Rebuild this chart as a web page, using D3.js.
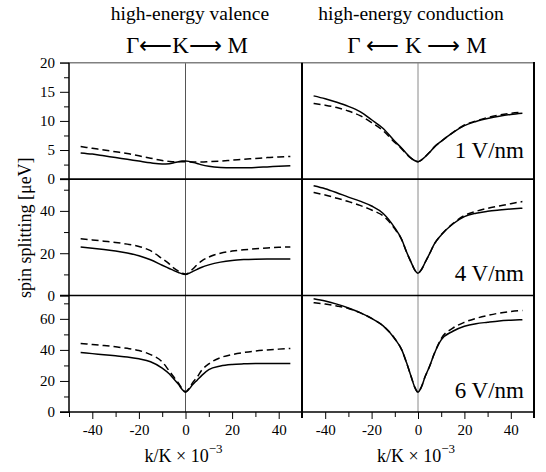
<!DOCTYPE html>
<html>
<head>
<meta charset="utf-8">
<script src="https://cdn.jsdelivr.net/npm/d3@7"></script>
<style>
  html, body { margin: 0; padding: 0; background: #fff; }
  svg { display: block; }
  text { font-family: "Liberation Serif", "Times New Roman", Times, serif; fill: #000; }
</style>
</head>
<body>
<svg id="chart" width="546" height="472"></svg>
<script>
// ---------------- data ----------------
const kValues = [-45, -40, -35, -30, -25, -20, -15, -10, -7, -5, -3, -1.5, 0, 1.5, 3, 5, 7, 10, 15, 20, 25, 30, 35, 40, 45];

// high-energy valence
const valence1Solid  = [4.5, 4.3, 4.0, 3.7, 3.4, 3.1, 2.8, 2.6, 2.65, 2.8, 3.0, 3.1, 3.1, 3.05, 2.9, 2.7, 2.45, 2.2, 2.0, 1.95, 1.95, 2.0, 2.1, 2.2, 2.3];
const valence1Dashed = [5.6, 5.3, 5.0, 4.7, 4.4, 4.0, 3.6, 3.2, 3.05, 3.0, 3.0, 3.0, 3.0, 2.97, 2.95, 2.95, 2.95, 3.0, 3.1, 3.25, 3.4, 3.55, 3.7, 3.8, 3.9];
const valence4Solid  = [22.9, 22.4, 21.8, 21.1, 20.1, 18.8, 16.9, 14.3, 12.8, 11.8, 10.9, 10.3, 10.0, 10.5, 11.3, 12.4, 13.4, 14.5, 15.8, 16.6, 17.0, 17.2, 17.3, 17.3, 17.3];
const valence4Dashed = [26.8, 26.3, 25.7, 25.1, 24.3, 23.2, 21.2, 17.4, 15.0, 13.0, 11.5, 10.6, 10.1, 10.9, 12.4, 14.6, 16.4, 18.2, 20.0, 21.0, 21.6, 22.1, 22.5, 22.8, 23.0];
const valence6Solid  = [38.3, 37.6, 36.9, 36.2, 35.5, 34.3, 32.4, 28.3, 24.6, 21.3, 17.8, 14.6, 12.8, 14.6, 17.5, 20.5, 23.6, 27.3, 29.6, 30.6, 31.0, 31.2, 31.2, 31.2, 31.2];
const valence6Dashed = [44.2, 43.5, 42.8, 42.0, 41.0, 39.6, 37.0, 32.3, 26.5, 22.5, 18.5, 15.2, 13.0, 15.2, 18.8, 22.5, 27.0, 31.0, 35.0, 37.0, 38.3, 39.3, 40.0, 40.5, 40.9];

// high-energy conduction
const conduction1Solid  = [14.3, 13.8, 13.2, 12.5, 11.6, 10.2, 8.7, 6.5, 5.3, 4.4, 3.6, 3.2, 3.0, 3.3, 3.8, 4.6, 5.5, 6.5, 8.0, 9.2, 9.9, 10.4, 10.8, 11.1, 11.3];
const conduction1Dashed = [13.0, 12.7, 12.3, 11.7, 10.9, 9.7, 8.3, 6.3, 5.2, 4.3, 3.6, 3.2, 3.0, 3.3, 3.8, 4.6, 5.5, 6.5, 8.0, 9.3, 10.0, 10.6, 11.0, 11.3, 11.5];
const conduction4Solid  = [51.9, 50.5, 48.6, 46.5, 44.6, 42.3, 38.8, 32.0, 26.5, 20.8, 15.8, 12.3, 10.6, 12.3, 15.5, 19.8, 24.3, 28.6, 33.8, 37.3, 38.9, 39.8, 40.4, 40.9, 41.3];
const conduction4Dashed = [48.7, 47.5, 46.0, 44.4, 42.6, 40.4, 37.6, 31.5, 26.3, 20.7, 15.8, 12.3, 10.6, 12.3, 15.5, 19.8, 24.3, 28.7, 34.0, 37.8, 39.8, 41.2, 42.3, 43.4, 44.4];
const conduction6Solid  = [73.0, 71.5, 69.5, 67.0, 64.0, 60.3, 55.5, 47.2, 40.0, 32.0, 23.0, 16.3, 12.8, 16.3, 22.5, 29.5, 37.5, 46.5, 52.0, 55.2, 56.9, 57.8, 58.6, 59.1, 59.5];
const conduction6Dashed = [70.4, 69.5, 68.3, 66.7, 64.0, 60.3, 55.5, 47.2, 40.0, 32.0, 23.0, 16.3, 12.8, 16.3, 22.5, 29.5, 37.5, 47.3, 54.0, 57.8, 60.3, 62.2, 63.7, 64.7, 65.4];

const fieldLabels = ["1 V/nm", "4 V/nm", "6 V/nm"];
const columnTitles = ["high-energy valence", "high-energy conduction"];
const pathLabels = ["\u0393\u27F5K\u27F6 M", "\u0393 \u27F5 K \u27F6 M"];
const yDomainMax = [20, 55, 75];
const yMajorTicks = [[0, 5, 10, 15, 20], [0, 20, 40], [0, 20, 40, 60]];
const yMinorTicks = [[2.5, 7.5, 12.5, 17.5], [10, 30, 50], [10, 30, 50, 70]];
const xMajorTicks = [-40, -20, 0, 20, 40];
const xMinorTicks = [-50, -30, -10, 10, 30, 50];

const panels = [
  [{solid: valence1Solid, dashed: valence1Dashed}, {solid: conduction1Solid, dashed: conduction1Dashed}],
  [{solid: valence4Solid, dashed: valence4Dashed}, {solid: conduction4Solid, dashed: conduction4Dashed}],
  [{solid: valence6Solid, dashed: valence6Dashed}, {solid: conduction6Solid, dashed: conduction6Dashed}]
];

// ---------------- layout ----------------
const SERIF = "'Liberation Serif', 'Times New Roman', Times, serif";
const svg = d3.select("#chart");
const L = 69, M = 302, R = 534, T = 62.7, B = 412;
const rowH = (B - T) / 3;
const colX = [[L, M], [M, R]];
const labelOffsets = [21.5, 15, 14];

const xScales = colX.map(c => d3.scaleLinear().domain([-50, 50]).range(c));
const yScales = yDomainMax.map((mx, i) =>
  d3.scaleLinear().domain([0, mx]).range([T + rowH * (i + 1), T + rowH * i]));

const g = svg.append("g");

// center (k = 0) guide lines
for (let c = 0; c < 2; c++) {
  const x0 = xScales[c](0);
  g.append("line").attr("x1", x0).attr("x2", x0).attr("y1", T).attr("y2", B)
    .attr("stroke", c === 0 ? "#555" : "#8a8a8a").attr("stroke-width", 1);
}

// curves
const line = (xs, ys) => d3.line()
  .x((d, i) => xs(kValues[i]))
  .y(d => ys(d))
  .curve(d3.curveMonotoneX);

panels.forEach((row, r) => {
  row.forEach((p, c) => {
    const lg = line(xScales[c], yScales[r]);
    g.append("path").attr("d", lg(p.dashed)).attr("fill", "none")
      .attr("stroke", "#000").attr("stroke-width", 1.5).attr("stroke-dasharray", "7,4");
    g.append("path").attr("d", lg(p.solid)).attr("fill", "none")
      .attr("stroke", "#000").attr("stroke-width", 1.5);
  });
});

// frame
g.append("line").attr("x1", L - 9).attr("x2", R + 1).attr("y1", T).attr("y2", T)
  .attr("stroke", "#808080").attr("stroke-width", 1.5);
for (let r = 1; r <= 3; r++) {
  const y = T + rowH * r;
  g.append("line").attr("x1", L - 9).attr("x2", R + 1).attr("y1", y).attr("y2", y)
    .attr("stroke", "#000").attr("stroke-width", r === 3 ? 1.3 : 1.6);
}
g.append("line").attr("x1", L).attr("x2", L).attr("y1", T).attr("y2", B)
  .attr("stroke", "#000").attr("stroke-width", 1.5);
g.append("line").attr("x1", M).attr("x2", M).attr("y1", T).attr("y2", B + 6)
  .attr("stroke", "#000").attr("stroke-width", 2);
g.append("line").attr("x1", R).attr("x2", R).attr("y1", T - 0.7).attr("y2", B + 6)
  .attr("stroke", "#000").attr("stroke-width", 2);

// y axes (ticks outside, left)
yScales.forEach((ys, r) => {
  const ax = d3.axisLeft(ys).tickValues(yMajorTicks[r]).tickSize(9).tickPadding(5)
    .tickFormat(d3.format("d"));
  const ag = g.append("g").attr("transform", `translate(${L},0)`).call(ax)
    .attr("font-family", SERIF);
  ag.select(".domain").remove();
  ag.selectAll("text").attr("font-family", SERIF).style("font-size", "15px");
  const axm = d3.axisLeft(ys).tickValues(yMinorTicks[r]).tickSize(5).tickFormat("");
  const am = g.append("g").attr("transform", `translate(${L},0)`).call(axm);
  am.select(".domain").remove();
});

// x axes (ticks outside, bottom)
xScales.forEach((xs, c) => {
  const ax = d3.axisBottom(xs).tickValues(xMajorTicks).tickSize(7).tickPadding(5)
    .tickFormat(d => String(d));
  const ag = g.append("g").attr("transform", `translate(0,${B})`).call(ax)
    .attr("font-family", SERIF);
  ag.select(".domain").remove();
  ag.selectAll("text").attr("font-family", SERIF).style("font-size", "15px");
  const axm = d3.axisBottom(xs).tickValues(xMinorTicks).tickSize(5).tickFormat("");
  const am = g.append("g").attr("transform", `translate(0,${B})`).call(axm);
  am.select(".domain").remove();
});

// x axis titles
[0, 1].forEach(c => {
  const cx = xScales[c](0) - 2;
  const t = svg.append("text").attr("x", cx).attr("y", 462).attr("text-anchor", "middle")
    .attr("font-family", SERIF).style("font-size", "18px");
  t.append("tspan").text(c === 0 ? "k/K \u00D7 10" : "k/K  \u00D7 10");
  t.append("tspan").attr("dy", -9).style("font-size", "13px").text("\u22123");
});

// y axis title
svg.append("text")
  .attr("transform", `translate(31,${T + 165}) rotate(-90)`)
  .attr("text-anchor", "middle").attr("font-family", SERIF).style("font-size", "18px")
  .text("spin splitting [\u03BCeV]");

// column titles and path labels
[0, 1].forEach(c => {
  const cx = c === 0 ? 190 : 411;
  svg.append("text").attr("x", cx).attr("y", 20).attr("text-anchor", "middle")
    .attr("font-family", SERIF).style("font-size", "19.5px").text(columnTitles[c]);
  svg.append("text").attr("x", c === 0 ? 187 : 417).attr("y", 53).attr("text-anchor", "middle")
    .attr("font-family", SERIF).style("font-size", "23px").text(pathLabels[c]);
});

// field labels
fieldLabels.forEach((lab, r) => {
  svg.append("text").attr("x", 524).attr("y", T + rowH * (r + 1) - labelOffsets[r])
    .attr("text-anchor", "end").attr("font-family", SERIF).style("font-size", "23px").text(lab);
});
</script>
</body>
</html>
